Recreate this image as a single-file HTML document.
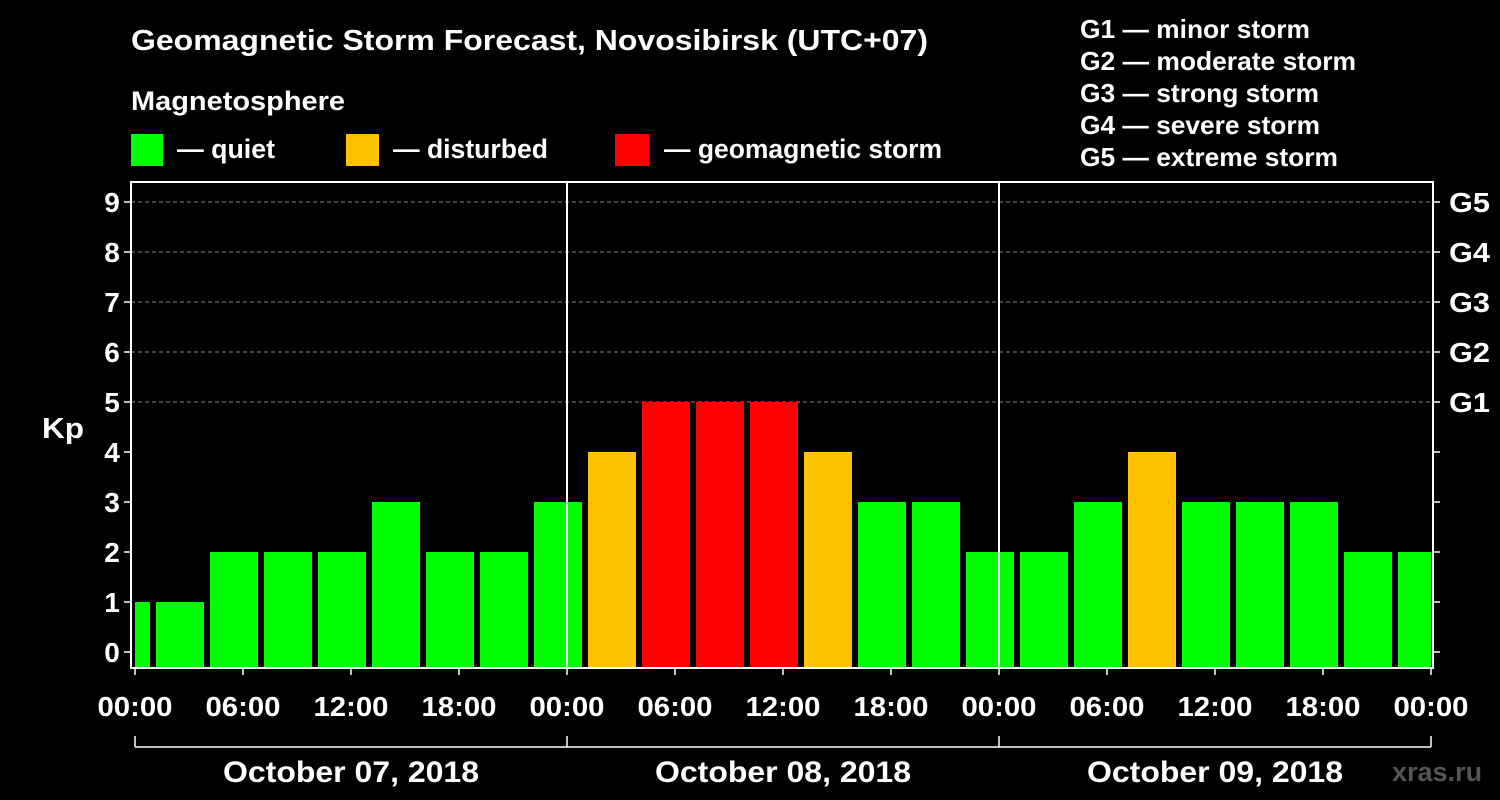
<!DOCTYPE html>
<html><head><meta charset="utf-8"><style>
body{margin:0;background:#000;}
svg{display:block;font-family:"Liberation Sans",sans-serif;font-weight:bold;}
</style></head><body>
<svg width="1500" height="800">
<rect width="1500" height="800" fill="#000"/>
<text x="131" y="50" fill="#fff" font-size="29" textLength="797" lengthAdjust="spacingAndGlyphs">Geomagnetic Storm Forecast, Novosibirsk (UTC+07)</text>
<text x="131" y="110" fill="#fff" font-size="27" textLength="214" lengthAdjust="spacingAndGlyphs">Magnetosphere</text>
<g><rect x="131" y="134" width="32" height="32" fill="#00ff00"/><text x="177" y="158" fill="#fff" font-size="27" textLength="98" lengthAdjust="spacingAndGlyphs">— quiet</text></g>
<g><rect x="346" y="134" width="33" height="32" fill="#ffc000"/><text x="393" y="158" fill="#fff" font-size="27" textLength="155" lengthAdjust="spacingAndGlyphs">— disturbed</text></g>
<g><rect x="615" y="134" width="34" height="32" fill="#ff0000"/><text x="664" y="158" fill="#fff" font-size="27" textLength="278" lengthAdjust="spacingAndGlyphs">— geomagnetic storm</text></g>
<g fill="#fff" font-size="26">
<text x="1080" y="38" textLength="230" lengthAdjust="spacingAndGlyphs">G1 — minor storm</text>
<text x="1080" y="70" textLength="276" lengthAdjust="spacingAndGlyphs">G2 — moderate storm</text>
<text x="1080" y="102" textLength="239" lengthAdjust="spacingAndGlyphs">G3 — strong storm</text>
<text x="1080" y="134" textLength="240" lengthAdjust="spacingAndGlyphs">G4 — severe storm</text>
<text x="1080" y="166" textLength="258" lengthAdjust="spacingAndGlyphs">G5 — extreme storm</text>
</g>
<text x="42" y="438" fill="#fff" font-size="29" textLength="42" lengthAdjust="spacingAndGlyphs">Kp</text>
<g id="grid"></g>
<g id="bars"></g>
<g id="axes"></g>
<text x="1392" y="781" fill="#555" font-size="27">xras.ru</text>
</svg>
<script>
const kpValues=[1,1,2,2,2,3,2,2,3,4,5,5,5,4,3,3,2,2,3,4,3,3,3,2,2];
const barStartHours=[-2,1,4,7,10,13,16,19,22,25,28,31,34,37,40,43,46,49,52,55,58,61,64,67,70];
const yTicks=[0,1,2,3,4,5,6,7,8,9];
const gLabels=["G1","G2","G3","G4","G5"];
const xTickLabels=["00:00","06:00","12:00","18:00","00:00","06:00","12:00","18:00","00:00","06:00","12:00","18:00","00:00"];
const dayLabels=["October 07, 2018","October 08, 2018","October 09, 2018"];
const NS="http://www.w3.org/2000/svg";
const X0=135,PX_H=18,Y0=652,PX_K=50,L=131,R=1433,T=182,B=668;
const xs=h=>X0+h*PX_H, ys=k=>Y0-k*PX_K;
function mk(tag,a,p){const e=document.createElementNS(NS,tag);for(const k in a)e.setAttribute(k,a[k]);p.appendChild(e);return e;}
const grid=document.getElementById('grid'),bars=document.getElementById('bars'),axes=document.getElementById('axes');
yTicks.forEach(k=>{
 if(k>=5){const g=mk('line',{x1:L,x2:R,y1:ys(k),y2:ys(k),stroke:'#888','stroke-dasharray':'4,3','stroke-width':1},grid);
 
 }
 const t=mk('text',{x:112,y:ys(k)+10,fill:'#fff','font-size':28,'text-anchor':'middle'},axes);t.textContent=k;
 
 
 mk('line',{x1:124,x2:L,y1:ys(k),y2:ys(k),stroke:'#fff','stroke-width':1.5},axes);
 mk('line',{x1:R,x2:R+7,y1:ys(k),y2:ys(k),stroke:'#fff','stroke-width':1.5},axes);
});
gLabels.forEach((g,i)=>{const t=mk('text',{x:1449,y:ys(i+5)+10,fill:'#fff','font-size':28,textLength:41,lengthAdjust:'spacingAndGlyphs'},axes);t.textContent=g;
 
 });
kpValues.forEach((v,i)=>{
 let x1=xs(barStartHours[i])+3,x2=xs(barStartHours[i]+3)-3;
 x1=Math.max(x1,X0);x2=Math.min(x2,xs(72));
 const c=v>=5?'#ff0000':v>=4?'#ffc000':'#00ff00';
 const r=mk('rect',{x:x1,y:ys(v),width:x2-x1,height:B-ys(v),fill:c},bars);
 
 
});
mk('rect',{x:L,y:T,width:R-L,height:B-T,fill:'none',stroke:'#fff','stroke-width':2},axes);
[24,48].forEach(h=>mk('line',{x1:xs(h),x2:xs(h),y1:T,y2:B,stroke:'#fff','stroke-width':2},axes));
xTickLabels.forEach((s,i)=>{const x=xs(i*6);
 mk('line',{x1:x,x2:x,y1:B,y2:B+7,stroke:'#fff','stroke-width':1.5},axes);
 const t=mk('text',{x:x,y:716,fill:'#fff','font-size':28,'text-anchor':'middle',textLength:75,lengthAdjust:'spacingAndGlyphs'},axes);t.textContent=s;
 
 });
mk('line',{x1:xs(0),x2:xs(72),y1:747,y2:747,stroke:'#fff','stroke-width':1.5},axes);
[0,24,48,72].forEach(h=>mk('line',{x1:xs(h),x2:xs(h),y1:736,y2:747,stroke:'#fff','stroke-width':1.5},axes));
dayLabels.forEach((d,i)=>{const t=mk('text',{x:xs(i*24+12),y:782,fill:'#fff','font-size':30,'text-anchor':'middle',textLength:256,lengthAdjust:'spacingAndGlyphs'},axes);t.textContent=d;
 
 });
</script>
</body></html>
